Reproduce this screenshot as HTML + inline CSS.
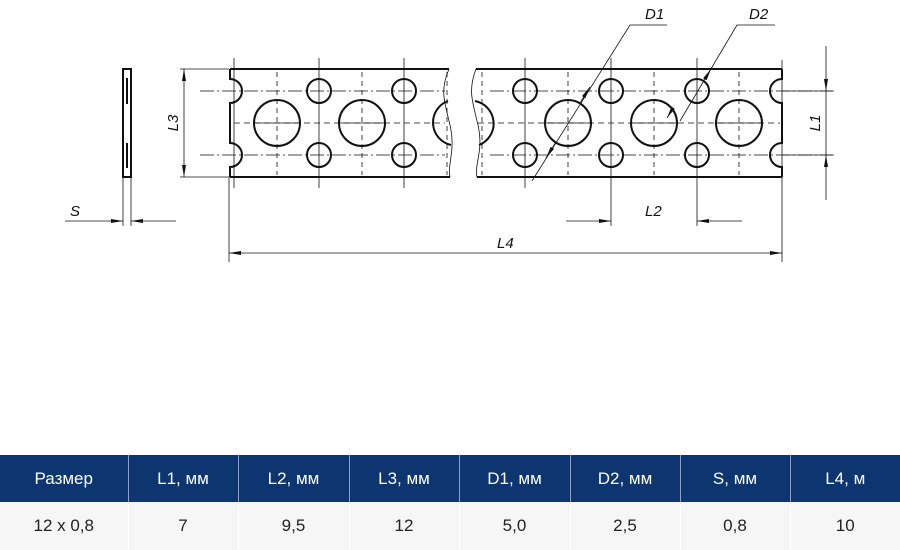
<!DOCTYPE html>
<html><head><meta charset="utf-8"><style>
body{margin:0;width:900px;height:550px;background:#fff;overflow:hidden;font-family:"Liberation Sans",sans-serif}
svg{position:absolute;left:0;top:0}
table{position:absolute;left:0;top:455px;border-collapse:collapse;width:900px;table-layout:fixed;font-family:"Liberation Sans","DejaVu Sans",sans-serif;font-size:17px}
th{background:#0d3670;color:#fff;font-weight:normal;height:47px;border-left:1px solid #8aa0c0;padding:0}
td{background:#f6f6f6;color:#222;height:48px;text-align:center;border-left:1px solid #fff;padding:0}
th:first-child,td:first-child{border-left:none}
</style></head><body>
<svg width="900" height="460" viewBox="0 0 900 460">
<defs>
<marker id="a" viewBox="0 0 12 4" refX="12" refY="2" markerWidth="12" markerHeight="4" orient="auto-start-reverse" markerUnits="userSpaceOnUse"><path d="M0,0 L12,2 L0,4z" fill="#111"/></marker>
</defs>
<g fill="none" stroke="#111" stroke-width="0.8">
<g stroke-dasharray="14,3,2,3">
<line x1="200" y1="91" x2="445" y2="91"/><line x1="200" y1="155" x2="445" y2="155"/>
<line x1="490" y1="91" x2="835" y2="91"/><line x1="490" y1="155" x2="835" y2="155"/>
</g>
<g stroke-dasharray="6,4">
<line x1="234" y1="123" x2="445" y2="123"/><line x1="478" y1="123" x2="780" y2="123"/>
</g>
<g stroke-dasharray="5,4">
<line x1="277" y1="72" x2="277" y2="175"/><line x1="362" y1="72" x2="362" y2="175"/><line x1="447" y1="72" x2="447" y2="175"/>
<line x1="482" y1="72" x2="482" y2="175"/><line x1="568" y1="72" x2="568" y2="175"/><line x1="654" y1="72" x2="654" y2="175"/><line x1="739" y1="72" x2="739" y2="175"/>
</g>
<g>
<line x1="234" y1="58" x2="234" y2="188"/><line x1="319" y1="58" x2="319" y2="188"/><line x1="404" y1="58" x2="404" y2="188"/>
<line x1="525" y1="58" x2="525" y2="188"/><line x1="611" y1="58" x2="611" y2="226"/><line x1="697" y1="58" x2="697" y2="226"/>
<line x1="254" y1="123" x2="300" y2="123"/><line x1="339" y1="123" x2="385" y2="123"/>
<line x1="545" y1="123" x2="591" y2="123"/><line x1="631" y1="123" x2="677" y2="123"/><line x1="716" y1="123" x2="762" y2="123"/>
</g>
<path d="M449,69 C440,90 444,100 450,125 C456,150 447,165 450,177"/>
<path d="M476,69 C468,90 472,100 478,125 C484,150 474,165 477,177"/>
<line x1="180" y1="69" x2="229" y2="69"/><line x1="180" y1="177" x2="229" y2="177"/>
<line x1="184" y1="69" x2="184" y2="177" marker-start="url(#a)" marker-end="url(#a)"/>
<line x1="123" y1="177" x2="123" y2="226"/><line x1="131" y1="177" x2="131" y2="226"/>
<line x1="65" y1="221" x2="123" y2="221" marker-end="url(#a)"/><line x1="176" y1="221" x2="131" y2="221" marker-end="url(#a)"/>
<line x1="229" y1="177" x2="229" y2="262"/><line x1="782" y1="60" x2="782" y2="262"/>
<line x1="229" y1="253" x2="782" y2="253" marker-start="url(#a)" marker-end="url(#a)"/>
<line x1="566" y1="221" x2="611" y2="221" marker-end="url(#a)"/><line x1="742" y1="221" x2="697" y2="221" marker-end="url(#a)"/>
<line x1="782" y1="91" x2="832" y2="91"/><line x1="782" y1="155" x2="832" y2="155"/>
<line x1="826" y1="46" x2="826" y2="91" marker-end="url(#a)"/><line x1="826" y1="200" x2="826" y2="155" marker-end="url(#a)"/>
<line x1="826" y1="91" x2="826" y2="155"/>
<path d="M667,25 L630,25 L532,181"/>
<line x1="580" y1="103" x2="590" y2="87" marker-end="url(#a)"/>
<line x1="556" y1="142" x2="546" y2="158" marker-end="url(#a)"/>
<path d="M775,25 L737,25 L680,121"/>
<line x1="705" y1="79" x2="711" y2="69" marker-end="url(#a)"/>
<line x1="673" y1="108" x2="667" y2="118" marker-end="url(#a)"/>
</g>
<g fill="none" stroke="#111" stroke-width="2">
<rect x="123" y="69" width="8" height="108"/>
<line x1="127" y1="78" x2="127" y2="104"/><line x1="127" y1="143" x2="127" y2="168"/>
<line x1="230" y1="69" x2="449" y2="69"/><line x1="230" y1="177" x2="450" y2="177"/>
<line x1="476" y1="69" x2="782" y2="69"/><line x1="477" y1="177" x2="782" y2="177"/>
<path d="M230,69 V79 A12,12 0 0 1 230,103 V143 A12,12 0 0 1 230,167 V177"/>
<path d="M782,69 V79 A12,12 0 0 0 782,103 V143 A12,12 0 0 0 782,167 V177"/>
<circle cx="277" cy="123" r="23"/><circle cx="362" cy="123" r="23"/>
<circle cx="319" cy="91" r="12"/><circle cx="319" cy="155" r="12"/>
<circle cx="404" cy="91" r="12"/><circle cx="404" cy="155" r="12"/>
<path d="M448,101 A23,23 0 0 0 451,145"/>
<path d="M475,101 A23,23 0 0 1 479,145"/>
<circle cx="568" cy="123" r="23"/><circle cx="654" cy="123" r="23"/><circle cx="739" cy="123" r="23"/>
<circle cx="525" cy="91" r="12"/><circle cx="525" cy="155" r="12"/>
<circle cx="611" cy="91" r="12"/><circle cx="611" cy="155" r="12"/>
<circle cx="697" cy="91" r="12"/><circle cx="697" cy="155" r="12"/>
</g>
<g font-family="Liberation Sans,sans-serif" font-style="italic" font-size="15" fill="#111">
<text x="70" y="216">S</text>
<text x="497" y="248">L4</text>
<text x="645" y="216">L2</text>
<text x="645" y="19">D1</text>
<text x="749" y="19">D2</text>
<text transform="translate(178,123) rotate(-90)" text-anchor="middle">L3</text>
<text transform="translate(820,123) rotate(-90)" text-anchor="middle">L1</text>
</g>
</svg>
<table><colgroup><col style="width:128px"><col style="width:110px"><col style="width:111px"><col style="width:110px"><col style="width:111px"><col style="width:110px"><col style="width:110px"><col style="width:110px"></colgroup>
<tr><th>Размер</th><th>L1, мм</th><th>L2, мм</th><th>L3, мм</th><th>D1, мм</th><th>D2, мм</th><th>S, мм</th><th>L4, м</th></tr>
<tr><td>12 x 0,8</td><td>7</td><td>9,5</td><td>12</td><td>5,0</td><td>2,5</td><td>0,8</td><td>10</td></tr></table>
</body></html>
